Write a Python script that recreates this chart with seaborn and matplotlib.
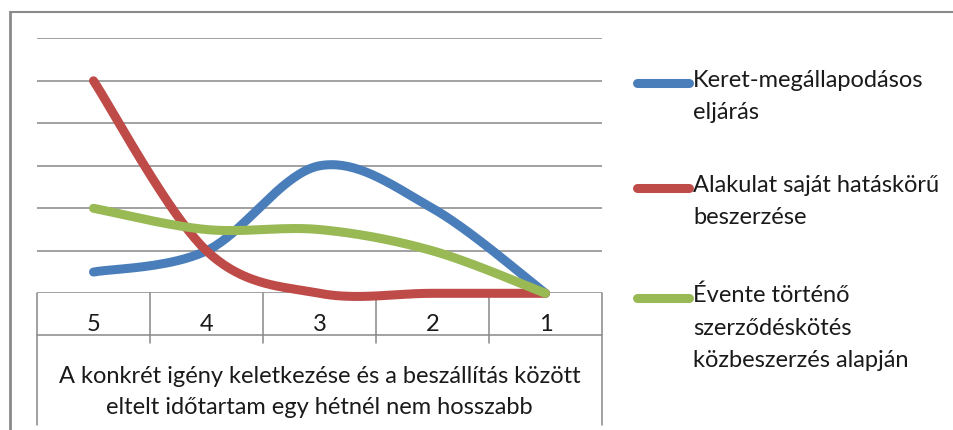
import numpy as np
import pandas as pd
import matplotlib
matplotlib.use("Agg")
import matplotlib.pyplot as plt
import seaborn as sns
from matplotlib.lines import Line2D

# ---- data ----
categories = ["5", "4", "3", "2", "1"]
keret = [0.5, 1, 3, 2, 0]
alakulat = [5, 1, 0, 0, 0]
evente = [2, 1.5, 1.5, 1, 0]
series_names = ["Keret-megállapodásos\neljárás",
                "Alakulat saját hatáskörű\nbeszerzése",
                "Évente történő\nszerződéskötés\nközbeszerzés alapján"]
colors = ["#4A7EBB", "#BE4B48", "#98B954"]
xlabel_text = ("A konkrét igény keletkezése és a beszállítás között\n"
               "eltelt időtartam egy hétnél nem hosszabb")

sns.set_theme(style="white")
plt.rcParams["font.family"] = ["Lato", "DejaVu Sans"]

W, H = 954, 430
FS = 17
LW = 6.5
GRID = "#888888"
TXT = "#1a1a1a"


def smooth(xs, ys, n=40):
    """Excel-like smoothed line: cubic Bezier through the points."""
    P = np.column_stack([xs, ys]).astype(float)
    out = []
    for i in range(len(P) - 1):
        p0 = P[i - 1] if i > 0 else P[i]
        p1, p2 = P[i], P[i + 1]
        p3 = P[i + 2] if i + 2 < len(P) else P[i + 1]
        c1 = p1 + (p2 - p0) / 6
        c2 = p2 - (p3 - p1) / 6
        t = np.linspace(0, 1, n)[:, None]
        seg = ((1 - t) ** 3) * p1 + 3 * ((1 - t) ** 2) * t * c1 + 3 * (1 - t) * t ** 2 * c2 + t ** 3 * p2
        if i > 0:
            seg = seg[1:]
        out.append(seg)
    return np.vstack(out)


xpos = np.arange(len(categories))
frames = []
for name, vals in zip(series_names, [keret, alakulat, evente]):
    c = smooth(xpos, vals)
    frames.append(pd.DataFrame({"x": c[:, 0], "y": c[:, 1], "series": name}))
df = pd.concat(frames, ignore_index=True)

fig = plt.figure(figsize=(W / 100, H / 100), dpi=100)
ax_left, ax_right = 37, 602
ax_top, ax_bot = 38.3, 293.3
ax = fig.add_axes([ax_left / W, 1 - ax_bot / H, (ax_right - ax_left) / W, (ax_bot - ax_top) / H])

sns.lineplot(data=df, x="x", y="y", hue="series", palette=colors,
             hue_order=series_names, sort=False, estimator=None,
             linewidth=LW, legend=False, ax=ax)
for ln in ax.get_lines():
    ln.set_solid_capstyle("round")
    ln.set_solid_joinstyle("round")
    ln.set_clip_on(False)
    ln.set_zorder(3)

ax.set_xlim(-0.5, len(categories) - 0.5)
ax.set_ylim(0, 6)
ax.set_yticks(range(7))
ax.set_yticklabels([])
ax.yaxis.grid(True, color=GRID, linewidth=1.1)
ax.xaxis.grid(False)
ax.set_axisbelow(True)
ax.tick_params(axis="y", left=False, length=0)
for s in ax.spines.values():
    s.set_visible(False)
ax.set_xlabel("")
ax.set_ylabel("")

ax.set_xticks(xpos)
ax.set_xticklabels(categories, fontsize=FS, color=TXT)
ax.tick_params(axis="x", length=0, pad=15)

# category table lines
axh = ax_bot - ax_top
tr = ax.get_xaxis_transform()
row_line = -(335 - ax_bot) / axh
inner_bot = -(343 - ax_bot) / axh
outer_bot = -(425 - ax_bot) / axh
ax.plot([-0.5, len(categories) - 0.5], [row_line, row_line], transform=tr,
        color=GRID, lw=1.1, clip_on=False)
for i, xb in enumerate(np.arange(-0.5, len(categories), 1.0)):
    yb = outer_bot if i in (0, len(categories)) else inner_bot
    ax.plot([xb, xb], [0, yb], transform=tr, color=GRID, lw=1.1, clip_on=False)

fig.text((ax_left + ax_right) / 2 / W, 1 - 392 / H, xlabel_text, ha="center",
         va="center", fontsize=FS, color=TXT, linespacing=1.55)

# legend
leg_first = [83, 188, 298]
for name, col, y0 in zip(series_names, colors, leg_first):
    fig.add_artist(Line2D([637 / W, 689 / W], [1 - y0 / H, 1 - y0 / H], color=col,
                          lw=LW, solid_capstyle="round"))
    fig.text(693 / W, 1 - (y0 - 13) / H, name, ha="left", va="top",
             fontsize=FS, color=TXT, linespacing=1.65)

# outer chart frame
fig.add_artist(Line2D([10.5 / W, 10.5 / W], [0, 1 - 12 / H], color="#8a8a8a", lw=2))
fig.add_artist(Line2D([10 / W, 1], [1 - 12 / H, 1 - 12 / H], color="#8a8a8a", lw=1.5))

fig.savefig("out.png", dpi=100)
